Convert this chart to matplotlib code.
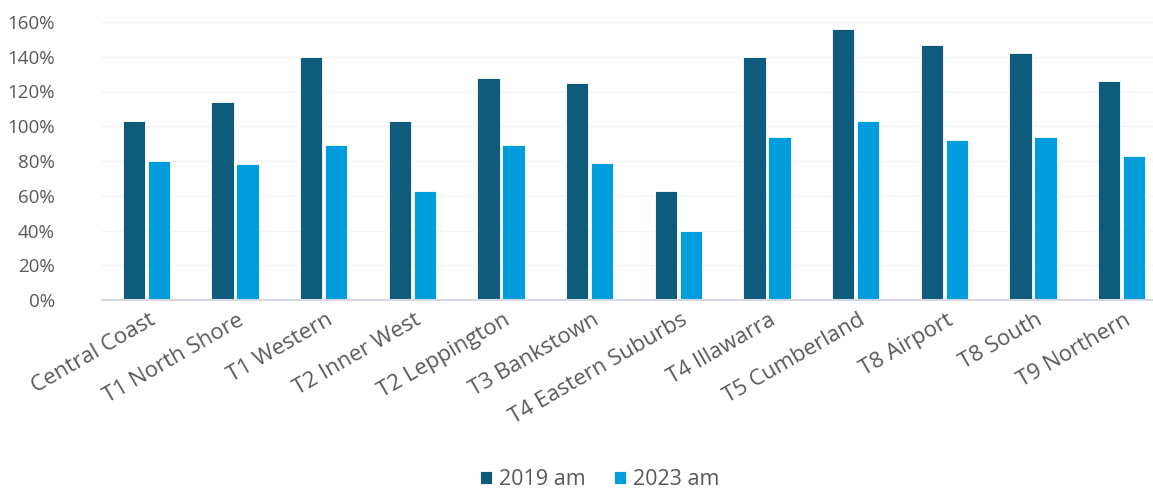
import numpy as np
import matplotlib
matplotlib.use("Agg")
import matplotlib.pyplot as plt
import matplotlib.transforms as mtransforms
from matplotlib.ticker import PercentFormatter

plt.rcParams['font.family'] = ['Open Sans', 'DejaVu Sans']

lines = ["Central Coast", "T1 North Shore", "T1 Western", "T2 Inner West",
         "T2 Leppington", "T3 Bankstown", "T4 Eastern Suburbs", "T4 Illawarra",
         "T5 Cumberland", "T8 Airport", "T8 South", "T9 Northern"]
am_2019 = [103, 114, 140, 103, 128, 125, 63, 140, 156, 147, 142, 126]
am_2023 = [80, 78, 89, 63, 89, 79, 40, 94, 103, 92, 94, 83]

dark = "#0F5B7C"
light = "#009CDB"
grey = "#595959"

fig = plt.figure(figsize=(11.53, 4.97), dpi=100)
ax = fig.add_axes([102 / 1153, 1 - 300 / 497, 1064 / 1153, 278 / 497])

x = np.arange(len(lines))
w = 0.255
ax.bar(x - 0.141, am_2019, w, color=dark, edgecolor="white", linewidth=0.6, label="2019 am", zorder=3)
ax.bar(x + 0.141, am_2023, w, color=light, edgecolor="white", linewidth=0.6, label="2023 am", zorder=3)

ax.set_xlim(-0.5, len(lines) - 0.5)
ax.set_ylim(0, 160)
ax.set_yticks(range(0, 161, 20))
ax.yaxis.set_major_formatter(PercentFormatter(decimals=0))
ax.grid(axis="y", color="#F3F3F3", linewidth=1, zorder=0)

for s in ["top", "right", "left"]:
    ax.spines[s].set_visible(False)
ax.spines["bottom"].set_color("#D3D8E0")
ax.spines["bottom"].set_linewidth(1.5)
ax.spines["bottom"].set_zorder(4)

ax.tick_params(axis="both", length=0, colors=grey)
ax.tick_params(axis="y", pad=34, labelsize=13.5)
ax.tick_params(axis="x", pad=7, labelsize=16)
ax.set_xticks(x)
ax.set_xticklabels(lines, rotation=30, ha="right", rotation_mode="anchor")
shift = mtransforms.ScaledTranslation(2 / 100, 0, fig.dpi_scale_trans)
for lab in ax.get_xticklabels():
    lab.set_transform(lab.get_transform() + shift)

fig.legend(loc="lower center", bbox_to_anchor=(0.52, -0.025), ncol=2, frameon=False,
           fontsize=15.5, labelcolor=grey, handlelength=0.55, handleheight=0.55,
           handletextpad=0.35, columnspacing=1.3)

fig.savefig("out.png", dpi=100)
